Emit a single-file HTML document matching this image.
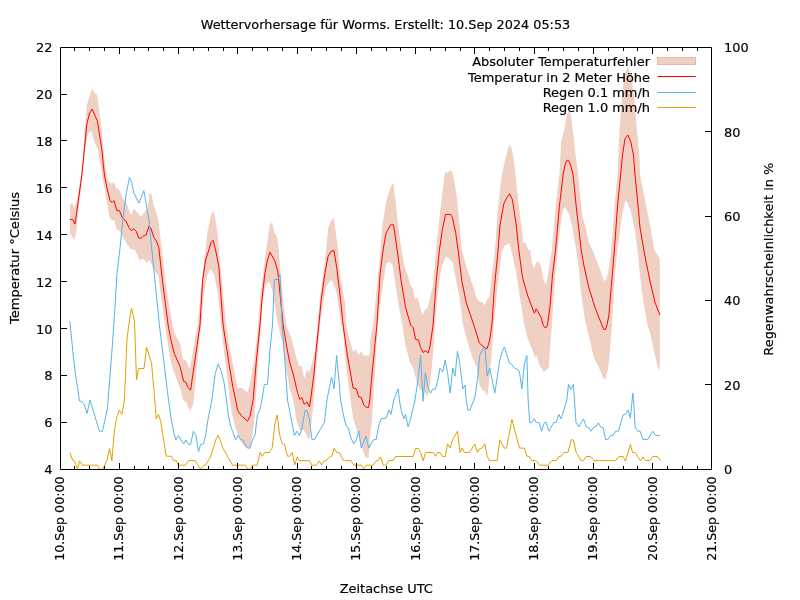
<!DOCTYPE html>
<html lang="de"><head><meta charset="utf-8"><title>Wettervorhersage für Worms</title>
<style>html,body{margin:0;padding:0;background:#fff}svg{display:block;will-change:transform}text{stroke:#000;stroke-width:.18px}</style></head>
<body>
<svg width="800" height="600" viewBox="0 0 800 600" font-family="'DejaVu Sans','Liberation Sans',sans-serif" font-size="12.95px" fill="#000">
<rect width="800" height="600" fill="#fff"/>
<polygon points="70.0,205.0 72.5,203.0 74.0,207.5 76.5,202.5 81.0,175.0 83.4,150.0 85.0,125.0 86.9,105.0 89.4,96.2 92.2,88.5 94.4,93.1 96.9,94.8 98.5,105.0 101.2,125.0 103.8,150.0 105.0,165.0 108.0,180.0 109.1,182.2 111.8,183.4 114.0,182.2 116.2,188.2 119.4,190.0 122.5,198.1 126.2,201.9 130.0,213.1 131.9,214.4 133.8,208.1 136.2,211.2 141.2,216.9 146.2,209.4 148.1,207.5 149.0,193.8 151.2,193.8 153.8,205.0 158.1,218.8 161.9,250.0 166.2,287.5 172.5,325.0 175.0,333.8 180.0,343.8 183.1,359.4 186.2,360.6 188.1,366.2 190.0,368.8 193.1,350.0 197.5,325.0 201.9,281.2 203.8,262.5 205.6,250.0 207.5,231.2 211.2,213.8 213.1,210.6 215.0,216.2 218.1,237.5 218.8,250.0 221.2,275.0 226.2,325.0 230.0,350.0 233.8,368.8 237.5,388.1 242.5,388.1 246.9,392.5 247.5,392.5 250.0,383.8 253.8,362.5 256.9,337.5 258.1,325.0 260.6,293.8 263.8,268.8 266.2,250.0 268.8,231.2 270.0,224.4 272.2,222.2 274.4,233.1 276.9,236.2 278.8,250.0 280.6,275.0 283.8,306.2 286.2,325.0 291.2,337.5 294.4,350.0 298.8,366.2 301.2,365.0 304.4,378.1 306.9,370.0 309.4,371.9 312.5,361.2 315.0,350.0 317.5,325.0 320.0,297.5 323.8,268.8 326.2,250.0 328.1,228.8 330.0,222.5 333.8,217.8 335.6,231.2 338.1,250.0 340.0,275.0 345.0,302.5 346.2,325.0 350.0,341.2 353.1,351.9 355.6,349.4 358.8,355.0 361.2,351.2 363.8,355.6 369.4,355.6 370.6,337.5 373.1,325.0 377.5,281.2 380.6,250.0 382.5,225.0 386.2,201.2 391.2,185.6 393.5,182.8 395.0,197.5 397.5,218.8 400.0,240.0 401.5,250.0 405.0,268.8 408.1,276.2 410.0,285.0 412.5,287.5 415.0,298.8 417.5,297.5 422.5,315.0 425.6,308.8 427.5,308.8 432.5,287.5 436.2,250.0 440.0,212.5 443.8,181.2 445.2,172.5 447.5,172.5 450.2,170.2 452.5,172.5 455.0,185.0 457.5,202.5 460.0,231.2 461.9,250.0 466.2,266.2 471.9,282.5 476.9,298.8 480.0,301.9 482.5,301.9 484.4,305.6 486.9,299.4 489.4,296.9 491.9,275.0 495.0,250.0 497.5,212.5 500.6,185.0 501.9,175.0 505.0,160.0 507.5,150.0 509.6,144.8 511.5,147.5 513.8,160.0 515.6,175.0 518.1,200.0 522.5,233.8 523.1,242.5 526.2,243.8 528.1,250.0 530.0,250.0 532.5,265.0 534.4,268.1 536.2,262.5 538.8,261.9 541.2,266.9 543.8,281.2 546.2,285.0 548.8,268.8 551.9,250.0 556.2,200.0 559.4,175.0 561.2,141.2 563.8,131.2 566.9,115.0 568.8,111.2 570.6,113.8 573.1,131.2 575.0,150.0 578.1,175.0 580.0,193.8 582.5,216.2 585.6,227.5 588.8,242.5 592.5,250.0 597.5,262.5 601.2,272.5 603.8,280.6 605.9,280.6 608.1,272.5 611.2,250.0 615.0,200.0 617.5,175.0 619.4,131.2 621.9,98.8 623.8,80.0 625.6,71.9 627.8,66.9 630.0,73.1 631.9,81.2 633.1,90.0 634.4,98.8 636.9,130.0 639.4,155.0 640.0,175.0 642.5,187.5 645.0,200.0 650.0,225.0 654.4,250.0 659.8,258.8 659.8,371.2 657.5,366.2 653.8,350.0 650.6,335.0 647.5,325.0 643.1,300.0 640.0,275.0 637.5,250.0 635.0,231.2 631.2,212.5 627.5,203.1 625.6,200.6 622.5,212.5 617.5,250.0 615.0,275.0 611.9,325.0 610.0,350.0 608.1,368.8 605.6,378.8 603.8,378.8 598.8,367.5 593.8,357.5 590.0,341.2 585.0,320.0 581.2,293.8 578.8,268.8 576.2,250.0 571.9,225.0 568.8,213.8 565.6,207.8 563.1,208.8 560.6,225.0 557.5,250.0 554.4,287.5 551.9,325.0 550.0,350.0 548.8,367.5 543.8,371.9 539.4,365.0 536.2,355.0 535.0,357.5 531.9,348.8 531.2,347.5 527.5,337.5 524.4,325.0 521.2,306.2 516.2,272.5 511.2,250.0 509.4,243.1 507.5,244.4 505.0,245.0 501.9,251.2 497.5,287.5 493.8,325.0 491.9,350.0 489.4,378.8 487.2,396.9 485.0,391.2 482.5,390.6 479.4,385.0 476.9,367.5 471.9,356.2 467.5,341.2 463.1,325.0 459.4,297.5 455.0,275.0 452.5,261.9 447.5,257.2 445.6,256.9 441.2,268.8 436.9,300.0 435.0,325.0 433.8,343.8 431.9,366.2 430.0,385.0 427.5,396.2 423.8,391.2 420.0,390.0 416.2,380.0 413.1,367.5 410.0,362.5 405.0,343.8 402.5,325.0 398.8,306.2 395.0,281.2 392.5,265.0 389.4,261.5 386.2,263.8 382.5,287.5 377.5,325.0 375.0,375.0 373.1,400.0 371.9,418.8 370.0,437.5 368.5,458.1 365.6,457.5 363.1,451.2 360.0,440.0 356.2,427.5 353.1,418.8 350.6,400.0 348.8,387.5 345.0,356.2 342.5,325.0 341.2,325.0 340.0,315.0 336.2,291.2 333.1,281.9 330.6,280.2 326.2,286.2 323.1,302.5 320.0,325.0 315.6,375.0 313.8,400.0 311.2,425.0 309.4,441.2 306.2,433.8 303.1,429.4 300.0,431.2 296.2,418.8 293.1,400.0 289.4,387.5 286.2,368.8 282.5,343.8 278.1,325.0 275.0,306.2 272.5,291.2 270.0,283.1 268.1,281.9 265.0,287.5 262.5,303.8 261.0,325.0 257.5,375.0 255.6,400.0 254.4,418.8 252.5,435.0 250.0,448.8 247.5,447.5 245.6,447.5 241.2,442.5 237.5,433.8 235.0,426.2 231.9,413.8 230.0,400.0 226.9,375.0 223.8,350.0 221.2,325.0 217.5,291.2 213.8,273.8 210.6,269.0 207.5,275.0 203.8,293.8 201.0,325.0 196.0,375.0 193.8,400.0 193.1,405.0 190.0,411.2 186.2,402.5 183.1,400.0 181.2,391.2 176.9,380.0 171.9,366.2 168.8,350.0 165.0,325.0 158.1,275.0 155.0,272.5 150.6,261.9 148.8,260.0 146.9,263.1 145.0,260.6 142.5,258.8 139.4,260.6 137.5,255.0 135.0,250.0 130.0,248.8 126.9,243.8 123.1,237.5 120.0,231.2 116.9,230.0 113.8,218.8 113.1,221.2 109.4,217.5 105.8,195.0 103.5,183.0 100.5,165.0 97.9,150.0 93.8,140.0 91.2,130.6 88.1,133.8 86.2,142.5 85.0,150.0 82.4,175.0 76.5,230.0 74.5,240.0 70.0,233.5" fill="#f0d0c2" stroke="none"/>
<text x="650" y="66" text-anchor="end">Absoluter Temperaturfehler</text>
<rect x="657.5" y="57.5" width="38" height="7" fill="#f0d0c2" stroke="#e9b8a4" stroke-width="1"/>
<text x="650" y="82" text-anchor="end">Temperatur in 2 Meter Höhe</text>
<polyline points="69.8,219.4 72.5,219.4 75.0,224.0 81.9,175.0 84.3,150.0 86.9,123.8 89.4,113.8 92.1,109.0 97.5,121.5 101.9,150.0 104.4,175.0 106.9,187.5 110.0,200.6 112.2,202.5 114.0,200.6 116.9,210.6 119.4,210.6 122.5,218.1 126.2,221.2 128.8,227.5 131.2,230.6 133.8,228.8 136.2,231.2 138.8,238.1 141.2,238.1 143.8,235.6 146.2,235.0 149.0,226.2 151.2,228.8 153.8,237.5 156.2,240.6 158.8,247.5 162.5,281.2 168.1,325.0 170.6,338.8 174.4,353.8 180.0,366.2 183.5,381.2 185.6,381.9 188.1,387.5 190.6,390.2 200.0,325.0 202.5,281.2 205.6,260.0 208.8,250.0 211.0,242.5 213.1,240.2 215.6,250.0 218.8,266.2 223.1,325.0 225.0,337.5 229.4,366.2 232.5,385.0 235.6,400.0 237.5,410.0 241.2,415.6 247.5,421.2 250.0,416.2 251.9,406.2 253.1,400.0 256.2,362.5 260.0,325.0 261.9,300.0 265.0,272.5 267.5,260.0 270.0,252.2 275.0,261.2 277.8,271.2 280.0,293.8 283.1,325.0 286.2,343.8 289.4,361.2 293.1,373.8 297.5,392.5 299.8,399.4 301.9,397.5 303.1,401.2 304.4,404.4 306.9,401.9 309.4,406.9 310.6,400.0 313.8,375.0 316.2,350.0 318.8,325.0 321.2,300.0 325.0,272.5 328.1,256.2 331.2,251.2 334.0,250.6 336.9,268.8 340.6,300.0 343.1,325.0 347.5,356.2 353.1,388.1 356.2,388.8 358.8,396.9 361.2,397.5 363.8,405.0 366.2,407.2 368.5,407.5 369.8,400.0 371.9,375.0 374.4,350.0 376.9,325.0 380.0,275.0 383.1,250.0 386.0,233.1 390.6,224.8 393.5,224.8 395.0,235.0 397.2,250.0 401.2,281.2 405.6,307.5 410.6,325.0 413.1,327.5 415.6,339.4 418.5,340.0 420.6,347.5 423.1,352.5 425.6,350.6 428.1,353.1 430.0,346.2 433.1,325.0 436.2,281.2 439.4,250.0 442.5,228.8 445.6,214.4 450.6,214.4 452.5,217.5 455.6,232.5 458.1,250.0 461.9,281.2 466.2,302.5 473.8,325.0 479.4,343.1 485.0,348.1 487.2,348.5 489.4,341.2 491.9,325.0 494.4,287.5 498.1,250.0 500.0,225.0 503.8,203.8 506.9,197.5 509.6,193.8 512.5,200.0 516.2,225.0 518.8,250.0 522.5,277.5 527.5,295.0 533.8,311.9 534.4,313.1 536.2,308.8 541.2,317.5 543.1,325.0 544.8,327.5 546.2,327.5 547.5,325.0 550.0,306.2 552.5,275.0 555.6,250.0 559.4,206.2 563.1,175.0 565.0,165.0 566.9,160.4 568.5,160.4 570.6,165.0 573.1,175.0 576.2,206.2 581.2,250.0 583.8,265.0 588.8,287.5 595.0,307.5 601.9,325.0 603.8,329.4 605.6,329.4 606.9,325.0 608.8,316.2 611.2,287.5 614.4,250.0 617.5,206.2 620.6,175.0 622.5,155.0 625.0,138.8 627.8,135.0 630.6,141.2 633.5,155.0 635.0,175.0 637.5,200.0 640.0,227.5 643.8,250.0 646.2,262.5 650.0,281.2 655.0,302.5 660.0,315.2" fill="none" stroke="#ff0000" stroke-width="1" stroke-linejoin="miter"/>
<path d="M657.5 76.5H695.8" stroke="#ff0000" stroke-width="1"/>
<text x="650" y="97" text-anchor="end">Regen 0.1 mm/h</text>
<polyline points="69.8,321.2 72.9,351.9 75.2,372.5 77.8,388.8 79.4,401.0 81.9,401.5 84.4,405.0 87.1,413.5 90.0,400.0 99.4,431.2 102.5,431.2 105.0,420.0 107.5,407.5 109.8,378.8 112.2,347.5 114.8,309.0 117.1,272.5 119.6,251.9 123.1,217.5 126.2,193.8 129.4,177.5 131.9,183.1 133.8,193.1 139.0,203.1 143.8,190.6 146.2,203.8 148.8,218.8 151.9,250.0 159.4,325.0 168.5,400.0 171.2,418.8 173.8,432.5 176.0,439.8 178.4,435.6 183.5,444.0 186.0,440.0 188.5,444.4 190.6,444.4 193.4,431.2 196.0,435.6 198.5,451.9 200.6,444.4 203.5,444.0 205.6,435.6 208.1,418.8 211.9,400.0 215.0,375.0 218.1,363.8 221.2,371.2 223.8,381.2 226.5,400.0 228.1,413.8 230.6,426.2 233.1,432.5 235.6,440.0 237.9,435.6 240.6,439.4 242.8,440.0 247.5,448.1 250.0,448.1 252.5,440.0 255.0,435.0 257.5,414.4 260.0,409.4 261.9,400.0 264.4,384.4 267.5,384.4 270.0,350.0 272.5,325.0 274.4,279.4 277.8,279.4 280.0,274.4 282.2,325.0 285.0,362.5 287.5,400.0 290.0,412.5 294.4,435.6 296.9,431.2 299.4,435.6 301.9,428.8 305.0,410.6 306.9,410.6 309.4,418.8 311.9,439.4 314.4,439.4 324.4,422.5 326.9,400.0 331.6,376.9 334.0,388.8 336.6,355.6 338.8,378.8 340.6,400.0 343.1,413.8 346.2,426.2 348.1,427.5 351.2,438.8 353.8,443.8 356.2,440.0 358.8,431.2 361.2,448.1 366.0,436.2 368.8,448.1 373.1,440.0 376.2,439.4 378.8,425.0 381.2,418.8 386.2,418.1 388.8,410.0 391.0,414.4 393.8,400.0 398.1,388.8 399.4,400.0 401.2,410.0 403.8,418.8 405.6,414.4 408.1,426.9 410.6,418.8 415.0,400.0 418.1,378.8 420.6,355.6 423.0,401.2 425.4,372.5 428.1,388.1 430.6,393.1 432.5,389.4 435.6,389.0 438.1,378.8 440.0,368.1 442.8,371.9 445.2,360.0 447.5,372.5 450.2,393.1 452.8,368.1 455.0,376.2 457.5,351.2 460.0,365.0 462.8,388.8 465.0,385.0 466.2,400.0 467.8,410.2 469.8,410.2 473.8,400.0 475.0,396.9 477.5,378.8 479.8,355.0 484.8,346.5 487.2,376.2 489.8,368.1 494.8,393.1 499.8,360.0 502.5,351.2 504.4,346.9 509.4,363.1 511.2,363.8 514.4,368.1 516.9,368.8 519.4,371.9 521.9,388.8 524.4,363.8 526.9,355.6 528.1,400.0 529.8,422.5 531.9,422.5 534.4,418.8 536.2,422.5 539.4,422.8 541.5,431.2 544.4,422.5 546.2,422.5 548.8,431.2 553.8,422.5 556.2,422.5 558.8,414.4 561.2,418.8 566.9,400.0 568.5,384.4 571.0,389.4 573.4,384.4 574.4,400.0 576.0,422.5 578.8,426.9 583.5,418.8 586.2,426.9 588.8,427.8 591.0,431.2 593.5,427.5 595.6,426.9 598.4,422.8 600.6,426.9 603.1,427.5 605.6,439.4 608.1,439.4 610.6,435.6 613.1,435.4 615.6,431.2 618.5,431.2 623.1,414.8 625.4,414.4 628.1,410.0 630.4,418.1 632.8,393.1 633.8,403.8 635.2,426.9 637.5,431.2 640.2,431.2 642.8,439.4 647.8,439.4 652.8,431.2 655.6,435.4 660.2,435.4" fill="none" stroke="#56b4e9" stroke-width="1" stroke-linejoin="miter"/>
<path d="M657.5 92.5H695.8" stroke="#56b4e9" stroke-width="1"/>
<text x="650" y="112" text-anchor="end">Regen 1.0 mm/h</text>
<polyline points="70.0,452.5 72.5,460.0 74.4,460.6 77.5,469.4 79.6,460.9 82.5,465.2 97.5,465.2 99.8,469.4 102.5,469.4 104.8,465.0 106.9,460.6 109.6,448.5 111.9,460.6 114.4,430.0 116.9,416.9 119.4,410.0 121.9,414.4 124.4,400.0 127.0,338.8 129.5,320.0 131.5,308.1 134.5,321.2 136.5,380.0 138.5,368.5 144.0,368.5 146.5,347.2 149.2,355.6 151.5,363.1 154.2,392.5 156.2,418.8 158.5,414.4 160.6,421.2 166.2,456.2 171.2,456.2 173.8,460.6 176.2,460.6 178.5,465.2 185.6,465.2 188.5,460.6 195.2,460.6 200.6,469.0 203.8,465.6 205.6,465.0 210.6,456.9 215.9,439.4 218.1,435.6 220.0,439.4 222.9,448.1 232.5,465.2 245.6,465.2 247.5,469.0 250.6,469.0 252.5,465.2 257.2,465.2 260.0,452.5 262.2,456.2 264.8,452.5 269.4,452.5 272.2,448.1 275.0,422.5 277.2,415.0 279.8,435.6 282.2,443.8 284.4,444.4 287.5,456.2 289.8,456.2 292.2,452.5 294.8,465.0 297.2,456.9 299.4,460.6 309.4,460.6 311.9,465.2 316.2,465.2 319.4,460.9 321.6,465.0 324.1,460.9 326.9,460.0 330.0,456.5 331.9,456.2 334.1,448.1 336.9,452.5 339.4,452.5 343.1,460.0 344.4,460.6 351.2,460.6 353.8,465.2 361.2,465.2 363.8,468.8 366.2,465.2 373.1,465.2 376.2,460.9 378.1,460.6 380.6,456.9 383.4,465.2 386.0,465.2 388.5,460.6 393.1,460.6 395.6,456.5 413.1,456.5 415.6,448.5 418.5,448.5 420.6,452.5 423.1,460.9 425.6,452.5 433.1,452.5 435.6,456.2 437.5,452.5 440.0,452.5 442.5,456.5 445.2,456.5 447.5,443.8 450.0,448.1 452.5,440.0 457.5,431.2 460.0,452.5 462.2,448.1 464.4,452.5 469.4,452.5 474.8,444.0 477.5,452.5 479.8,448.5 482.2,448.1 484.8,443.8 487.2,456.2 489.4,460.6 497.1,460.6 499.8,439.8 504.4,448.1 506.5,448.1 511.9,419.4 515.0,431.2 519.4,448.1 524.4,448.1 526.9,456.2 529.0,456.5 531.9,460.6 536.2,460.6 539.8,465.2 548.1,465.2 551.9,460.6 556.2,460.6 558.8,456.5 561.2,456.2 563.8,452.5 568.1,452.2 571.2,439.8 573.4,439.8 576.2,452.5 578.8,456.9 581.2,460.6 583.5,460.6 586.2,456.5 590.6,456.5 593.8,460.6 615.6,460.6 618.8,456.5 623.1,456.5 625.4,461.2 630.4,444.4 632.5,452.5 635.2,452.5 640.6,461.0 642.8,456.9 645.6,460.6 650.0,460.6 652.8,456.5 657.5,456.5 660.2,460.6" fill="none" stroke="#e69f00" stroke-width="1" stroke-linejoin="miter"/>
<path d="M657.5 107.5H695.8" stroke="#e69f00" stroke-width="1"/>
<path d="M60.5 47.5H711.5V469.5H60.5Z" fill="none" stroke="#000" stroke-width="1"/>
<path d="M74.5 470v-4M74.5 47v4M89.5 470v-4M89.5 47v4M104.5 470v-4M104.5 47v4M119.5 470v-7M119.5 47v7M134.5 470v-4M134.5 47v4M148.5 470v-4M148.5 47v4M163.5 470v-4M163.5 47v4M178.5 470v-7M178.5 47v7M193.5 470v-4M193.5 47v4M208.5 470v-4M208.5 47v4M223.5 470v-4M223.5 47v4M237.5 470v-7M237.5 47v7M252.5 470v-4M252.5 47v4M267.5 470v-4M267.5 47v4M282.5 470v-4M282.5 47v4M297.5 470v-7M297.5 47v7M311.5 470v-4M311.5 47v4M326.5 470v-4M326.5 47v4M341.5 470v-4M341.5 47v4M356.5 470v-7M356.5 47v7M371.5 470v-4M371.5 47v4M386.5 470v-4M386.5 47v4M400.5 470v-4M400.5 47v4M415.5 470v-7M415.5 47v7M430.5 470v-4M430.5 47v4M445.5 470v-4M445.5 47v4M460.5 470v-4M460.5 47v4M474.5 470v-7M474.5 47v7M489.5 470v-4M489.5 47v4M504.5 470v-4M504.5 47v4M519.5 470v-4M519.5 47v4M534.5 470v-7M534.5 47v7M548.5 470v-4M548.5 47v4M563.5 470v-4M563.5 47v4M578.5 470v-4M578.5 47v4M593.5 470v-7M593.5 47v7M608.5 470v-4M608.5 47v4M623.5 470v-4M623.5 47v4M637.5 470v-4M637.5 47v4M652.5 470v-7M652.5 47v7M667.5 470v-4M667.5 47v4M682.5 470v-4M682.5 47v4M697.5 470v-4M697.5 47v4M60 422.5h7M60 375.5h7M60 328.5h7M60 281.5h7M60 234.5h7M60 187.5h7M60 140.5h7M60 94.5h7M712 384.5h-7M712 300.5h-7M712 216.5h-7M712 131.5h-7" fill="none" stroke="#000" stroke-width="1"/>
<text x="52.5" y="474" text-anchor="end">4</text>
<text x="52.5" y="427" text-anchor="end">6</text>
<text x="52.5" y="380" text-anchor="end">8</text>
<text x="52.5" y="334" text-anchor="end">10</text>
<text x="52.5" y="287" text-anchor="end">12</text>
<text x="52.5" y="240" text-anchor="end">14</text>
<text x="52.5" y="193" text-anchor="end">16</text>
<text x="52.5" y="146" text-anchor="end">18</text>
<text x="52.5" y="99" text-anchor="end">20</text>
<text x="52.5" y="52" text-anchor="end">22</text>
<text x="724" y="474">0</text>
<text x="724" y="390">20</text>
<text x="724" y="305">40</text>
<text x="724" y="221">60</text>
<text x="724" y="137">80</text>
<text x="724" y="52">100</text>
<text transform="translate(64,476.5) rotate(-90)" text-anchor="end" font-size="12.64px">10.Sep 00:00</text>
<text transform="translate(123,476.5) rotate(-90)" text-anchor="end" font-size="12.64px">11.Sep 00:00</text>
<text transform="translate(183,476.5) rotate(-90)" text-anchor="end" font-size="12.64px">12.Sep 00:00</text>
<text transform="translate(242,476.5) rotate(-90)" text-anchor="end" font-size="12.64px">13.Sep 00:00</text>
<text transform="translate(301,476.5) rotate(-90)" text-anchor="end" font-size="12.64px">14.Sep 00:00</text>
<text transform="translate(360,476.5) rotate(-90)" text-anchor="end" font-size="12.64px">15.Sep 00:00</text>
<text transform="translate(420,476.5) rotate(-90)" text-anchor="end" font-size="12.64px">16.Sep 00:00</text>
<text transform="translate(479,476.5) rotate(-90)" text-anchor="end" font-size="12.64px">17.Sep 00:00</text>
<text transform="translate(538,476.5) rotate(-90)" text-anchor="end" font-size="12.64px">18.Sep 00:00</text>
<text transform="translate(597,476.5) rotate(-90)" text-anchor="end" font-size="12.64px">19.Sep 00:00</text>
<text transform="translate(657,476.5) rotate(-90)" text-anchor="end" font-size="12.64px">20.Sep 00:00</text>
<text transform="translate(716,476.5) rotate(-90)" text-anchor="end" font-size="12.64px">21.Sep 00:00</text>
<text x="385.5" y="29" text-anchor="middle" font-size="12.83px">Wettervorhersage für Worms. Erstellt: 10.Sep 2024 05:53</text>
<text x="386.3" y="593" text-anchor="middle">Zeitachse UTC</text>
<text transform="translate(19,258) rotate(-90)" text-anchor="middle" font-size="13.08px">Temperatur °Celsius</text>
<text transform="translate(773,259.2) rotate(-90)" text-anchor="middle">Regenwahrscheinlichkeit in %</text>
</svg>
</body></html>
